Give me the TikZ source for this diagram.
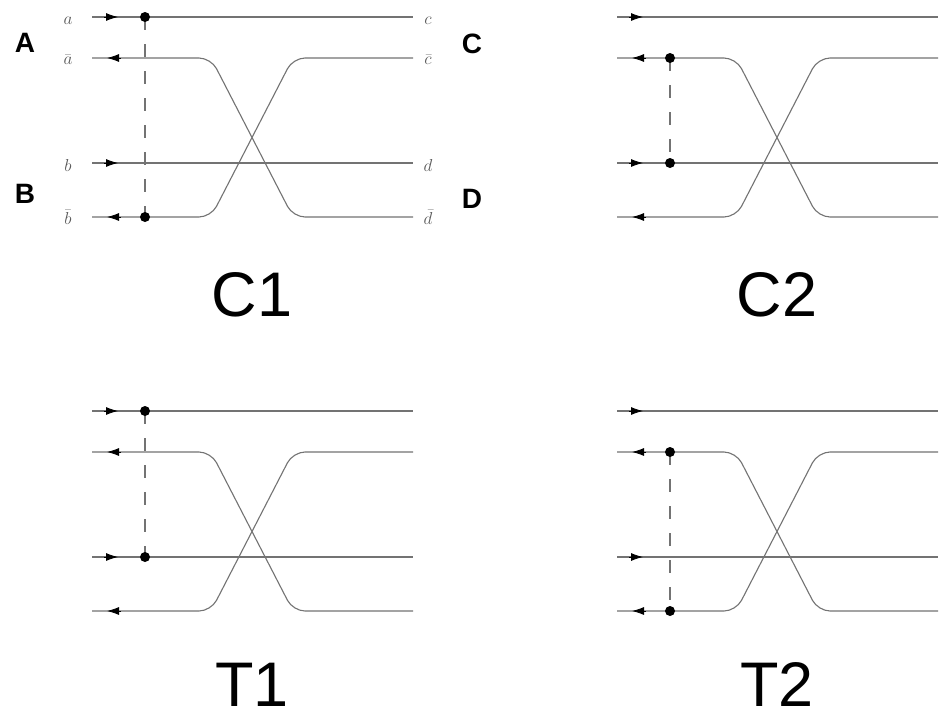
\documentclass[tikz,border=0pt]{standalone}
\usepackage{fontspec}
\setmainfont{Liberation Serif}
\newfontfamily\hv{Liberation Sans}
\usetikzlibrary{arrows.meta}
\tikzset{
  wire/.style={draw=black!55, line width=1.1pt},
  xwire/.style={wire, rounded corners=12pt},
  tipstyle/.style={-{Latex[length=12pt,width=8pt]}, black, line width=0.8pt},
  conn/.style={draw=black!55, line width=1.3pt, dash pattern=on 13pt off 14pt},
  dotnode/.style={circle, fill=black, inner sep=0pt, minimum size=10pt},
  titletext/.style={font=\hv\fontsize{63}{63}\selectfont, anchor=base, inner sep=0pt},
  portname/.style={font=\hv\bfseries\fontsize{28}{28}\selectfont, anchor=base, inner sep=0pt},
  wirelab/.style={font=\fontsize{18}{18}\selectfont, text=black!65, anchor=base, inner sep=0pt},
}
% one panel of four wires, with the crossing; #1 = prefix, #2,#3 = shift
\newcommand\wirepanel[3]{%
\begin{scope}[shift={(#2,#3)}]
  \coordinate (#1aL) at (92,17);  \coordinate (#1aR) at (413,17);
  \coordinate (#1abL) at (92,58); \coordinate (#1abR) at (413,58);
  \coordinate (#1bL) at (92,163); \coordinate (#1bR) at (413,163);
  \coordinate (#1bbL) at (92,217); \coordinate (#1bbR) at (413,217);
  \coordinate (#1x1) at (211,58);  \coordinate (#1x2) at (293,217);
  \coordinate (#1x3) at (211,217); \coordinate (#1x4) at (293,58);
  \coordinate (#1d1) at (145,17);  \coordinate (#1d2) at (145,58);
  \coordinate (#1d3) at (145,163); \coordinate (#1d4) at (145,217);
  \coordinate (#1t1s) at (104,17);  \coordinate (#1t1) at (118,17);
  \coordinate (#1t2s) at (121,58);  \coordinate (#1t2) at (107,58);
  \coordinate (#1t3s) at (104,163); \coordinate (#1t3) at (118,163);
  \coordinate (#1t4s) at (121,217); \coordinate (#1t4) at (107,217);
  \draw[wire] (#1aL) -- (#1aR);
  \draw[wire] (#1bL) -- (#1bR);
  \draw[xwire] (#1abL) -- (#1x1) -- (#1x2) -- (#1bbR);
  \draw[xwire] (#1bbL) -- (#1x3) -- (#1x4) -- (#1abR);
  \draw[tipstyle] (#1t1s) -- (#1t1);
  \draw[tipstyle] (#1t2s) -- (#1t2);
  \draw[tipstyle] (#1t3s) -- (#1t3);
  \draw[tipstyle] (#1t4s) -- (#1t4);
\end{scope}}
\begin{document}
\begin{tikzpicture}[x=1pt,y=-1pt]
\useasboundingbox (0,0) rectangle (939,716);
\fill[white] (0,0) rectangle (939,716);

\wirepanel{P}{0}{0}
\wirepanel{Q}{525}{0}
\wirepanel{R}{0}{394}
\wirepanel{S}{525}{394}

% C1: a and b-bar
\draw[conn] (Pd1) -- (Pd4);
\node[dotnode] (c1u) at (Pd1) {};
\node[dotnode] (c1l) at (Pd4) {};
% C2: a-bar and b
\draw[conn] (Qd2) -- (Qd3);
\node[dotnode] (c2u) at (Qd2) {};
\node[dotnode] (c2l) at (Qd3) {};
% T1: a and b
\draw[conn] (Rd1) -- (Rd3);
\node[dotnode] (t1u) at (Rd1) {};
\node[dotnode] (t1l) at (Rd3) {};
% T2: a-bar and b-bar
\draw[conn] (Sd2) -- (Sd4);
\node[dotnode] (t2u) at (Sd2) {};
\node[dotnode] (t2l) at (Sd4) {};

% wire labels
\node[wirelab] (la)  at (68,24)  {$a$};
\node[wirelab] (lab) at (68,64)  {$\bar a$};
\node[wirelab] (lb)  at (68,171) {$b$};
\node[wirelab] (lbb) at (68,224) {$\bar b$};
\node[wirelab] (lc)  at (428,24)  {$c$};
\node[wirelab] (lcb) at (428,64)  {$\bar c$};
\node[wirelab] (ld)  at (428,171) {$d$};
\node[wirelab] (ldb) at (428,224) {$\bar d$};

% port names
\node[portname] (pA) at (25,52)  {A};
\node[portname] (pB) at (25,203) {B};
\node[portname] (pC) at (472,53) {C};
\node[portname] (pD) at (472,208) {D};

% titles
\node[titletext] (tC1) at (252,316) {C1};
\node[titletext] (tC2) at (777,316) {C2};
\node[titletext] (tT1) at (252,706) {T1};
\node[titletext] (tT2) at (777,706) {T2};
\end{tikzpicture}
\end{document}
